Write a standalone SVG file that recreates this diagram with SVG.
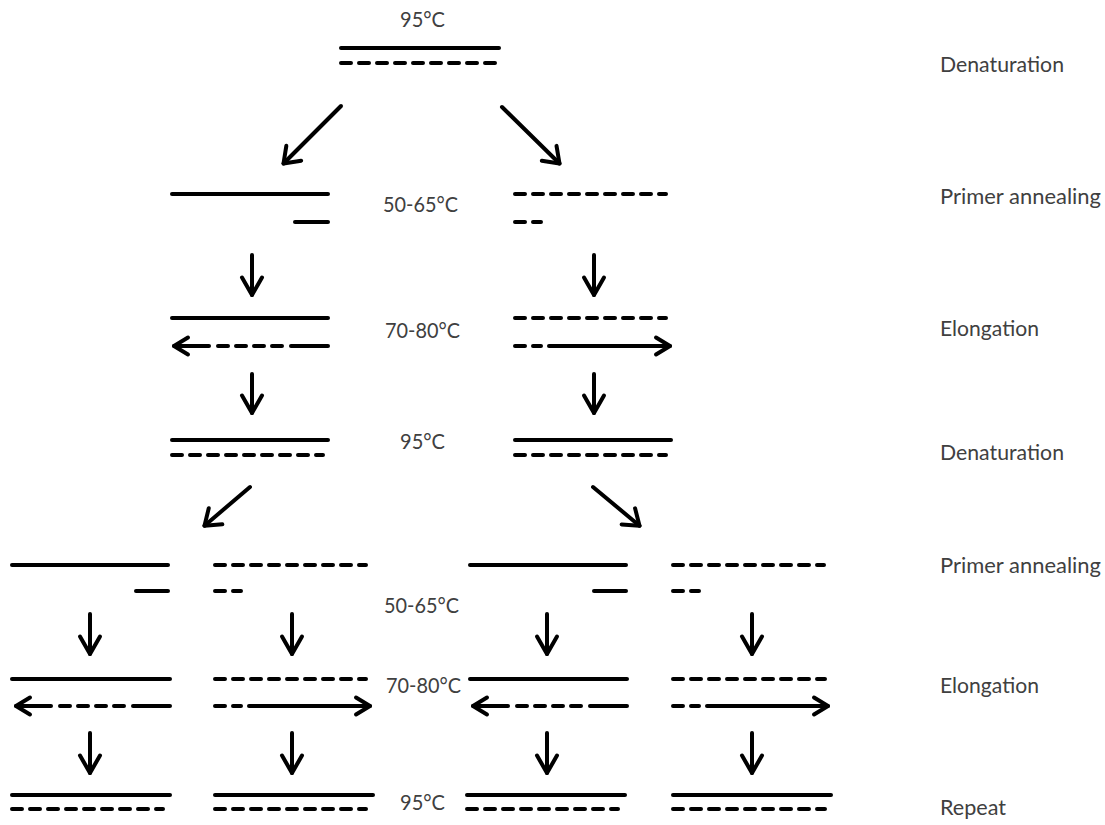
<svg xmlns="http://www.w3.org/2000/svg" width="1105" height="825" viewBox="0 0 1105 825">
<style>
.s{stroke:#000;stroke-width:4;stroke-linecap:round;fill:none}
.d{stroke:#000;stroke-width:4;stroke-linecap:round;fill:none;stroke-dasharray:10 8}
.t{font-family:Lato,"Open Sans","Liberation Sans",sans-serif;font-size:22px;fill:#404040}
.hh{marker-end:url(#hh)}
.hv{marker-end:url(#hv)}
.hd{marker-end:url(#hd)}
</style>
<defs>
<marker id="hh" markerUnits="userSpaceOnUse" viewBox="-22 -14 26 28" markerWidth="26" markerHeight="28" refX="0" refY="0" orient="auto" overflow="visible">
<path d="M-14,-8.5 L0,0 L-14,8.5" fill="none" stroke="#000" stroke-width="4" stroke-linecap="round" stroke-linejoin="round"/>
</marker>
<marker id="hv" markerUnits="userSpaceOnUse" viewBox="-22 -14 26 28" markerWidth="26" markerHeight="28" refX="0" refY="0" orient="auto" overflow="visible">
<path d="M-17.5,-10 L0,0 L-17.5,10" fill="none" stroke="#000" stroke-width="4" stroke-linecap="round" stroke-linejoin="round"/>
</marker>
<marker id="hd" markerUnits="userSpaceOnUse" viewBox="-22 -14 26 28" markerWidth="26" markerHeight="28" refX="0" refY="0" orient="auto" overflow="visible">
<path d="M-14.5,-10.5 L0,0 L-14.5,10.5" fill="none" stroke="#000" stroke-width="4" stroke-linecap="round" stroke-linejoin="round"/>
</marker>
</defs>
<rect width="1105" height="825" fill="#fff"/>

<g id="labels">
<text class="t" x="400" y="27" textLength="45" lengthAdjust="spacingAndGlyphs">95°C</text>
<text class="t" x="383" y="212" textLength="75" lengthAdjust="spacingAndGlyphs">50-65°C</text>
<text class="t" x="385" y="338" textLength="75" lengthAdjust="spacingAndGlyphs">70-80°C</text>
<text class="t" x="400" y="449" textLength="45" lengthAdjust="spacingAndGlyphs">95°C</text>
<text class="t" x="384" y="613" textLength="75" lengthAdjust="spacingAndGlyphs">50-65°C</text>
<text class="t" x="386" y="693" textLength="75" lengthAdjust="spacingAndGlyphs">70-80°C</text>
<text class="t" x="400" y="810" textLength="45" lengthAdjust="spacingAndGlyphs">95°C</text>
<text class="t" x="940" y="72" textLength="124" lengthAdjust="spacingAndGlyphs">Denaturation</text>
<text class="t" x="940" y="204" textLength="161" lengthAdjust="spacingAndGlyphs">Primer annealing</text>
<text class="t" x="940" y="336" textLength="99" lengthAdjust="spacingAndGlyphs">Elongation</text>
<text class="t" x="940" y="460" textLength="124" lengthAdjust="spacingAndGlyphs">Denaturation</text>
<text class="t" x="940" y="573" textLength="161" lengthAdjust="spacingAndGlyphs">Primer annealing</text>
<text class="t" x="940" y="693" textLength="99" lengthAdjust="spacingAndGlyphs">Elongation</text>
<text class="t" x="940" y="815" textLength="66" lengthAdjust="spacingAndGlyphs">Repeat</text>
</g>

<g id="n-top">
<line class="s" x1="341" y1="48" x2="499" y2="48"/>
<line class="d" x1="341" y1="63" x2="495" y2="63"/>
</g>

<g id="n-r2-l">
<line class="s" x1="172" y1="194" x2="328" y2="194"/>
<line class="s" x1="295" y1="222" x2="328" y2="222"/>
</g>
<g id="n-r2-r">
<line class="d" x1="515" y1="194" x2="666" y2="194"/>
<line class="d" x1="515" y1="222" x2="541" y2="222"/>
</g>

<g id="n-r3-l">
<line class="s" x1="172" y1="318" x2="328" y2="318"/>
<line class="s" x1="291" y1="346" x2="328" y2="346"/>
<line class="d" x1="218" y1="346" x2="282" y2="346"/>
<line class="s hh" x1="209" y1="346" x2="174" y2="346"/>
</g>
<g id="n-r3-r">
<line class="d" x1="515" y1="318" x2="666" y2="318"/>
<line class="d" x1="515" y1="346" x2="541" y2="346"/>
<line class="s hh" x1="549" y1="346" x2="670" y2="346"/>
</g>

<g id="n-r4-l">
<line class="s" x1="172" y1="440" x2="328" y2="440"/>
<line class="d" x1="172" y1="455" x2="323" y2="455"/>
</g>
<g id="n-r4-r">
<line class="s" x1="515" y1="440" x2="671" y2="440"/>
<line class="d" x1="515" y1="455" x2="666" y2="455"/>
</g>

<g id="n-r5-1">
<line class="s" x1="12" y1="565" x2="168" y2="565"/>
<line class="s" x1="136" y1="591" x2="168" y2="591"/>
</g>
<g id="n-r5-2">
<line class="d" x1="215" y1="565" x2="366" y2="565"/>
<line class="d" x1="215" y1="591" x2="241" y2="591"/>
</g>
<g id="n-r5-3">
<line class="s" x1="470" y1="565" x2="626" y2="565"/>
<line class="s" x1="594" y1="591" x2="626" y2="591"/>
</g>
<g id="n-r5-4">
<line class="d" x1="673" y1="565" x2="824" y2="565"/>
<line class="d" x1="673" y1="591" x2="699" y2="591"/>
</g>

<g id="n-r6-1">
<line class="s" x1="12" y1="679" x2="170" y2="679"/>
<line class="s" x1="133" y1="706" x2="170" y2="706"/>
<line class="d" x1="60" y1="706" x2="124" y2="706"/>
<line class="s hh" x1="51" y1="706" x2="16" y2="706"/>
</g>
<g id="n-r6-2">
<line class="d" x1="215" y1="679" x2="366" y2="679"/>
<line class="d" x1="215" y1="706" x2="241" y2="706"/>
<line class="s hh" x1="249" y1="706" x2="370" y2="706"/>
</g>
<g id="n-r6-3">
<line class="s" x1="470" y1="679" x2="627" y2="679"/>
<line class="s" x1="590" y1="706" x2="627" y2="706"/>
<line class="d" x1="517" y1="706" x2="581" y2="706"/>
<line class="s hh" x1="508" y1="706" x2="473" y2="706"/>
</g>
<g id="n-r6-4">
<line class="d" x1="673" y1="679" x2="825" y2="679"/>
<line class="d" x1="673" y1="706" x2="699" y2="706"/>
<line class="s hh" x1="707" y1="706" x2="828" y2="706"/>
</g>

<g id="n-r7-1">
<line class="s" x1="12" y1="795" x2="170" y2="795"/>
<line class="d" x1="12" y1="809" x2="163" y2="809"/>
</g>
<g id="n-r7-2">
<line class="s" x1="215" y1="795" x2="373" y2="795"/>
<line class="d" x1="215" y1="809" x2="366" y2="809"/>
</g>
<g id="n-r7-3">
<line class="s" x1="467" y1="795" x2="625" y2="795"/>
<line class="d" x1="467" y1="809" x2="618" y2="809"/>
</g>
<g id="n-r7-4">
<line class="s" x1="673" y1="795" x2="831" y2="795"/>
<line class="d" x1="673" y1="809" x2="825" y2="809"/>
</g>

<g id="connectors">
<line class="s hd" x1="341" y1="106" x2="283.5" y2="163.5"/>
<line class="s hd" x1="502" y1="107" x2="559.5" y2="163.5"/>
<line class="s hv" x1="252" y1="255" x2="252" y2="295"/>
<line class="s hv" x1="594" y1="255" x2="594" y2="295"/>
<line class="s hv" x1="252" y1="374" x2="252" y2="413"/>
<line class="s hv" x1="594" y1="374" x2="594" y2="413"/>
<line class="s hd" x1="250" y1="487" x2="204.5" y2="525.7"/>
<line class="s hd" x1="593" y1="487" x2="639.5" y2="525.7"/>
<line class="s hv" x1="90" y1="614" x2="90" y2="654"/>
<line class="s hv" x1="292" y1="614" x2="292" y2="654"/>
<line class="s hv" x1="547" y1="614" x2="547" y2="654"/>
<line class="s hv" x1="752" y1="614" x2="752" y2="654"/>
<line class="s hv" x1="90" y1="733" x2="90" y2="773"/>
<line class="s hv" x1="292" y1="733" x2="292" y2="773"/>
<line class="s hv" x1="547" y1="733" x2="547" y2="773"/>
<line class="s hv" x1="752" y1="733" x2="752" y2="773"/>
</g>
</svg>
